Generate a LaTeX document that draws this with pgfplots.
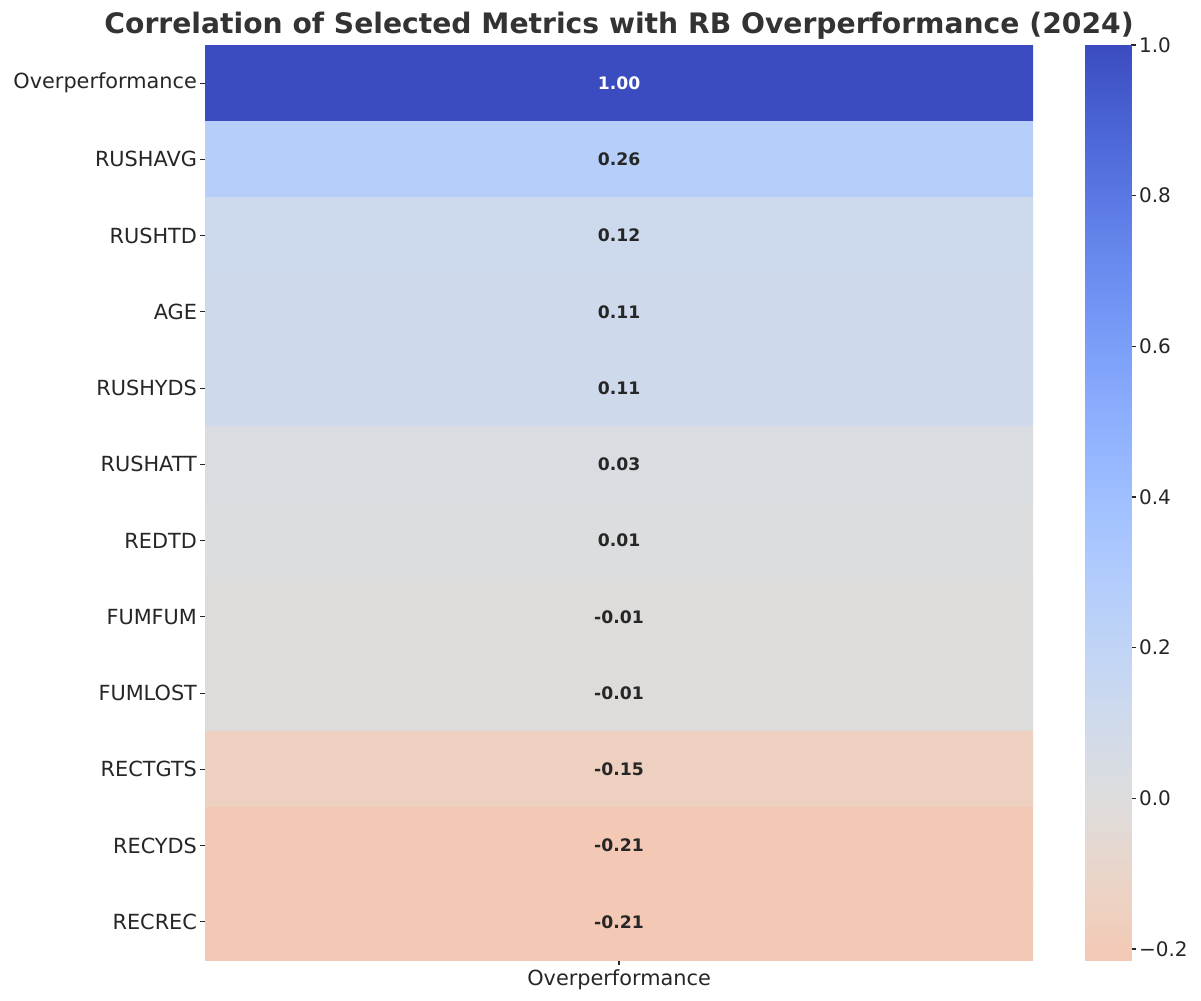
\documentclass[border=0pt]{standalone}
\usepackage{fontspec}
\setmainfont{DejaVu Sans}
\usepackage{pgfplots}
\pgfplotsset{compat=1.18}
\definecolor{tickc}{HTML}{262626}
\definecolor{titlec}{HTML}{333333}
\pgfplotsset{colormap={cw}{rgb255(0pt)=(243,200,180) rgb255(27.1pt)=(241,204,185) rgb255(89.6pt)=(236,211,197) rgb255(152.1pt)=(229,216,209) rgb255(214.6pt)=(221,221,221) rgb255(277.1pt)=(213,219,230) rgb255(339.6pt)=(204,217,238) rgb255(402.1pt)=(194,213,244) rgb255(464.6pt)=(184,208,249) rgb255(527.1pt)=(174,201,253) rgb255(589.6pt)=(163,194,255) rgb255(652.1pt)=(152,185,255) rgb255(714.6pt)=(141,176,254) rgb255(777.1pt)=(130,165,251) rgb255(839.6pt)=(119,154,247) rgb255(902.1pt)=(108,142,241) rgb255(964.6pt)=(98,130,234) rgb255(1027.1pt)=(87,117,225) rgb255(1089.6pt)=(77,104,215) rgb255(1152.1pt)=(68,90,204) rgb255(1214.6pt)=(59,76,192)}}
\begin{document}
\begin{tikzpicture}
\begin{axis}[
  name=main,
  at={(0,0)}, anchor=south west,
  scale only axis,
  width=596.2pt, height=658.8pt,
  xmin=-0.5, xmax=1.5, ymin=-0.5, ymax=11.5,
  y dir=reverse,
  enlargelimits=false,
  axis line style={draw=none},
  tick align=outside,
  tick pos=left,
  major tick length=3.6pt,
  tick style={draw=tickc, line width=0.8pt},
  xtick={0.5}, xticklabels={Overperformance},
  ytick={0,1,2,3,4,5,6,7,8,9,10,11},
  yticklabels={Overperformance,RUSHAVG,RUSHTD,AGE,RUSHYDS,RUSHATT,REDTD,FUMFUM,FUMLOST,RECTGTS,RECYDS,RECREC},
  ticklabel style={font=\fontsize{15}{17}\selectfont, text=tickc},
  yticklabel style={inner sep=2pt},
  colormap name=cw,
  point meta min=-0.2146, point meta max=1,
]
\addplot[matrix plot*, mesh/cols=2, point meta=explicit] coordinates {
(0,0) [1.00] (1,0) [1.00]
(0,1) [0.26] (1,1) [0.26]
(0,2) [0.12] (1,2) [0.12]
(0,3) [0.11] (1,3) [0.11]
(0,4) [0.11] (1,4) [0.11]
(0,5) [0.03] (1,5) [0.03]
(0,6) [0.01] (1,6) [0.01]
(0,7) [-0.01] (1,7) [-0.01]
(0,8) [-0.01] (1,8) [-0.01]
(0,9) [-0.15] (1,9) [-0.15]
(0,10) [-0.21] (1,10) [-0.21]
(0,11) [-0.2146] (1,11) [-0.2146]
};
\addplot[draw=none, mark=none, point meta=explicit symbolic,
  nodes near coords, nodes near coords align={center},
  nodes near coords style={font=\fontsize{12.4}{14}\selectfont\bfseries, text=white}] coordinates {
(0.5,0) [1.00]
};
\addplot[draw=none, mark=none, point meta=explicit symbolic,
  nodes near coords, nodes near coords align={center},
  nodes near coords style={font=\fontsize{12.4}{14}\selectfont\bfseries, text=tickc}] coordinates {
(0.5,1) [0.26]
(0.5,2) [0.12]
(0.5,3) [0.11]
(0.5,4) [0.11]
(0.5,5) [0.03]
(0.5,6) [0.01]
(0.5,7) [-0.01]
(0.5,8) [-0.01]
(0.5,9) [-0.15]
(0.5,10) [-0.21]
(0.5,11) [-0.21]
};
\end{axis}
\begin{axis}[
  name=cbar,
  at={(main.south west)}, anchor=south west, xshift=633.6pt,
  scale only axis,
  width=33.1pt, height=658.8pt,
  xmin=0, xmax=1, ymin=-0.2146, ymax=1,
  enlargelimits=false,
  axis line style={draw=none},
  xtick=\empty,
  ytick={-0.2,0,0.2,0.4,0.6,0.8,1},
  yticklabels={−0.2,0.0,0.2,0.4,0.6,0.8,1.0},
  ytick pos=right, yticklabel pos=right,
  tick align=outside,
  major tick length=3.6pt,
  tick style={draw=tickc, line width=0.8pt},
  yticklabel style={font=\fontsize{14.4}{17}\selectfont, text=tickc, inner sep=2pt},
  colormap name=cw,
  point meta min=-0.2146, point meta max=1,
]
\addplot[surf, shader=interp, mesh/cols=2, point meta=y] coordinates {
(0,-0.2146) (1,-0.2146)
(0,-0.1875) (1,-0.1875)
(0,-0.125) (1,-0.125)
(0,-0.0625) (1,-0.0625)
(0,0) (1,0)
(0,0.0625) (1,0.0625)
(0,0.125) (1,0.125)
(0,0.1875) (1,0.1875)
(0,0.25) (1,0.25)
(0,0.3125) (1,0.3125)
(0,0.375) (1,0.375)
(0,0.4375) (1,0.4375)
(0,0.5) (1,0.5)
(0,0.5625) (1,0.5625)
(0,0.625) (1,0.625)
(0,0.6875) (1,0.6875)
(0,0.75) (1,0.75)
(0,0.8125) (1,0.8125)
(0,0.875) (1,0.875)
(0,0.9375) (1,0.9375)
(0,1) (1,1)
};
\end{axis}
\node[anchor=base, font=\fontsize{20.3}{24}\selectfont\bfseries, text=titlec] at ([yshift=8.6pt]main.north) {Correlation of Selected Metrics with RB Overperformance (2024)};
\pgfresetboundingbox
\path[use as bounding box] ([shift={(-147.6pt,-28.8pt)}]main.south west) rectangle ([shift={(717.1pt,691.2pt)}]main.south west);
\end{tikzpicture}
\end{document}
